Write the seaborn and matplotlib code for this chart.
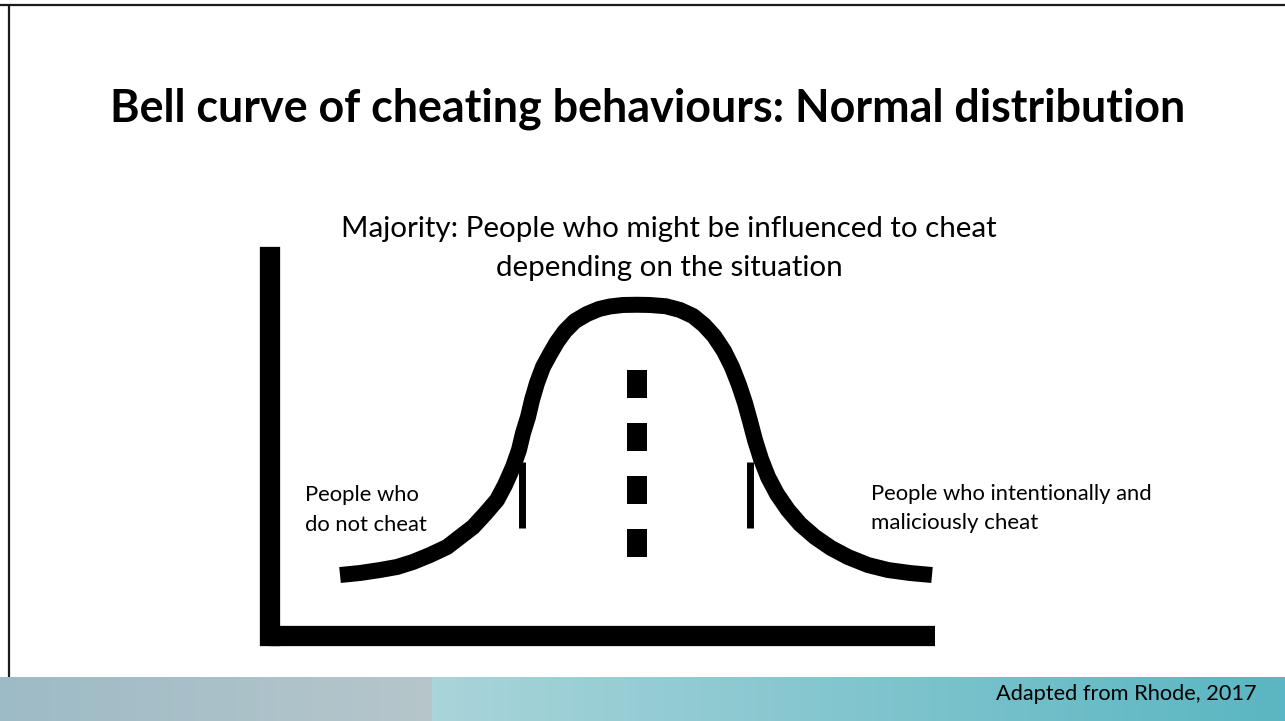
import numpy as np
import matplotlib.pyplot as plt
import seaborn as sns

sns.set_theme(style="white")
plt.rcParams['font.family'] = ['Lato', 'DejaVu Sans']

# Bell curve (x: behaviour scale 0-100, y: frequency 0-100)
curve_x = [10.53, 13.53, 16.54, 19.10, 21.50, 24.06, 26.62, 28.57, 30.53, 32.33, 34.14,
           35.34, 36.54, 37.44, 38.05, 38.80, 39.40, 40.15, 41.05, 42.11, 43.16, 44.36,
           45.86, 47.67, 49.47, 51.13, 53.08, 55.19, 57.14, 59.55, 61.65, 63.61, 65.26,
           66.77, 68.27, 69.47, 70.53, 71.43, 72.18, 72.93, 73.83, 74.89, 76.24, 77.89,
           79.70, 81.95, 84.36, 86.92, 89.92, 92.93, 96.24, 99.55]
curve_y = [16.09, 16.62, 17.41, 18.21, 19.53, 21.37, 23.48, 26.12, 28.76, 32.19, 35.88,
           39.84, 44.59, 49.08, 53.56, 57.78, 62.27, 66.75, 70.98, 74.41, 77.57, 80.47,
           83.11, 84.96, 86.28, 86.95, 87.34, 87.40, 87.34, 87.00, 86.02, 84.43, 82.06,
           79.16, 75.20, 70.98, 66.23, 61.48, 56.73, 51.72, 46.70, 41.95, 37.47, 33.25,
           29.55, 26.12, 23.22, 20.84, 18.73, 17.41, 16.62, 16.09]
mean_x = 55.2
mean_line_y = [70.2, 20.8]
sd_x = [37.9, 72.2]
sd_line_y = [28.5, 46.0]

title = "Bell curve of cheating behaviours: Normal distribution"
top_label = ["Majority: People who might be influenced to cheat", "depending on the situation"]
left_label = ["People who", "do not cheat"]
right_label = ["People who intentionally and", "maliciously cheat"]
source = "Adapted from Rhode, 2017"

fig = plt.figure(figsize=(12.85, 7.21), dpi=100)

# slide background (pixel coordinates)
bg = fig.add_axes([0, 0, 1, 1])
bg.axis('off')

# footer band with two gradients
c1 = np.array([[0x9d, 0xbb, 0xc6], [0xb6, 0xc6, 0xcb]]) / 255
c2 = np.array([[0xa9, 0xd4, 0xda], [0x5a, 0xb6, 0xc2]]) / 255
t = np.linspace(0, 1, 200)[:, None]
g1 = (c1[0] * (1 - t) + c1[1] * t)[None, :, :]
g2 = (c2[0] * (1 - t) + c2[1] * t)[None, :, :]
bg.imshow(g1, extent=[0, 432, 721, 677], aspect='auto')
bg.imshow(g2, extent=[432, 1285, 721, 677], aspect='auto')
bg.set_xlim(0, 1285)
bg.set_ylim(721, 0)

# slide border
bg.plot([0, 1285], [5, 5], color='#1a1a1a', lw=1.6, solid_capstyle='butt')
bg.plot([9, 9], [5, 677], color='#1a1a1a', lw=1.6, solid_capstyle='butt')

# chart area
ax = fig.add_axes([270 / 1285, 85 / 721, 665 / 1285, 379 / 721])
ax.set_xlim(0, 100)
ax.set_ylim(0, 100)
ax.patch.set_alpha(0)
ax.spines['top'].set_visible(False)
ax.spines['right'].set_visible(False)
for s in ['left', 'bottom']:
    ax.spines[s].set_color('black')
    ax.spines[s].set_linewidth(14.6)
ax.spines['left'].set_capstyle('projecting')
ax.spines['bottom'].set_capstyle('butt')
ax.set_xticks([])
ax.set_yticks([])

ax.vlines(sd_x, sd_line_y[0], sd_line_y[1], color='black', lw=5)
ax.plot([mean_x, mean_x], mean_line_y, color='black', lw=14.4, dashes=(1.4, 1.25))
sns.lineplot(x=curve_x, y=curve_y, ax=ax, color='black', lw=11.5, sort=False,
             estimator=None, clip_on=False, solid_capstyle='butt', solid_joinstyle='round')

# texts, sized to the widths measured on the slide
def put(s, x, y, width, ha='left', weight='normal'):
    txt = bg.text(x, y, s, ha=ha, va='baseline', fontsize=20, fontweight=weight, color='black')
    fig.canvas.draw()
    w = txt.get_window_extent(fig.canvas.get_renderer()).width
    txt.set_fontsize(20 * width / w)
    return txt

put(title, 648, 122, 1077, ha='center', weight='bold')
put(top_label[0], 669, 237, 656, ha='center')
put(top_label[1], 669, 276, 348, ha='center')
put(left_label[0], 305, 501, 114)
put(left_label[1], 305, 531, 122)
put(right_label[0], 871, 500, 282)
put(right_label[1], 871, 529, 167)
put(source, 1257, 700, 262, ha='right')

fig.savefig('out.png', dpi=100)
